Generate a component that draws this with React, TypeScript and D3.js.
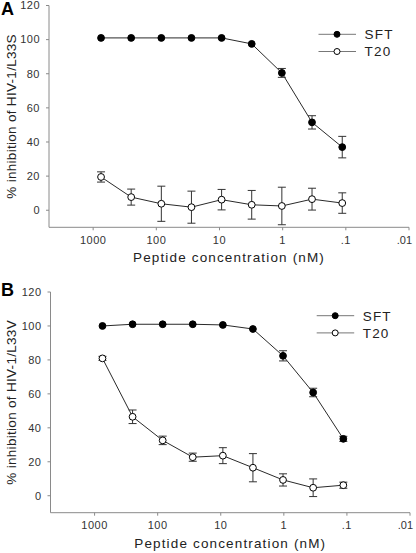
import React from "react";
import * as d3 from "d3";

const concentrations = [750, 250, 83.3, 27.8, 9.26, 3.09, 1.03, 0.343, 0.114];
const xTicks = [1000, 100, 10, 1, 0.1, 0.01];
const xTickLabels = ["1000", "100", "10", "1", ".1", ".01"];
const yTicks = [0, 20, 40, 60, 80, 100, 120];

const aSFT = [101, 101, 101, 101, 101, 97.5, 80.5, 51.5, 37];
const aSFTErr = [0, 0, 0, 0, 0, 0, 2.6, 3.9, 6.3];
const aT20 = [19.5, 7.7, 3.8, 1.8, 6.2, 3.2, 2.5, 6.5, 4.2];
const aT20Err = [3, 4.7, 10.3, 9.4, 6, 8.4, 11, 6.4, 6];

const bSFT = [100, 101, 101, 101, 100.6, 98.2, 82.4, 60.8, 33.5];
const bSFTErr = [0, 0, 0, 0, 0, 0, 3, 2.5, 1.5];
const bT20 = [80.9, 46.5, 32.6, 22.7, 23.6, 16.5, 9.3, 4.7, 6.2];
const bT20Err = [1.2, 4, 2.5, 2.4, 4.7, 8.3, 3.6, 5.2, 1.8];

const FONT = "'Liberation Sans', Arial, Helvetica, sans-serif";
const AXIS = "#8a8a8a";
const INK = "#2a2a2a";

type PanelProps = {
  letter: string;
  yTitle: string;
  sft: number[];
  sftErr: number[];
  t20: number[];
  t20Err: number[];
  x0: number;
  x1: number;
  yBottom: number;
  yTop: number;
  legendX: number;
  legendY: number;
  letterY: number;
};

function Panel(p: PanelProps) {
  const x = d3.scaleLog().domain([5000, 0.01]).range([p.x0, p.x1]);
  const y = d3.scaleLinear().domain([-10, 120]).range([p.yBottom, p.yTop]);
  const line = d3
    .line<number>()
    .x((_, i) => x(concentrations[i]))
    .y((d) => y(d));

  const series = [
    { vals: p.sft, errs: p.sftErr, filled: true },
    { vals: p.t20, errs: p.t20Err, filled: false },
  ];
  const cap = 4;
  const yMid = (y(-10) + y(120)) / 2;
  const xMid = (p.x0 + p.x1) / 2;

  return (
    <g>
      <text x={1} y={p.letterY} fontFamily={FONT} fontWeight="bold" fontSize={18} fill="#000">
        {p.letter}
      </text>
      {/* axes */}
      <line x1={p.x0} x2={p.x0} y1={y(-10)} y2={y(120)} stroke={AXIS} strokeWidth={1} />
      <line x1={p.x0} x2={p.x1} y1={y(-10)} y2={y(-10)} stroke={AXIS} strokeWidth={1} />
      {yTicks.map((t) => (
        <g key={"y" + t}>
          <line x1={p.x0 - 3} x2={p.x0} y1={y(t)} y2={y(t)} stroke={AXIS} />
          <text
            x={p.x0 - 9}
            y={y(t) + 3.8}
            textAnchor="end"
            fontFamily={FONT}
            fontSize={11}
            letterSpacing={0.5}
            fill="#333"
          >
            {t}
          </text>
        </g>
      ))}
      {xTicks.map((t, i) => {
        const last = i === xTicks.length - 1;
        return (
          <g key={"x" + t}>
            <line x1={x(t)} x2={x(t)} y1={y(-10)} y2={y(-10) + 3} stroke={AXIS} />
            <text
              x={last ? x(t) + 3 : x(t)}
              y={y(-10) + 16.5}
              textAnchor={last ? "end" : "middle"}
              fontFamily={FONT}
              fontSize={11}
              letterSpacing={last ? 0 : 0.5}
              fill="#333"
            >
              {xTickLabels[i]}
            </text>
          </g>
        );
      })}
      <text
        x={xMid}
        y={y(-10) + 35}
        textAnchor="middle"
        fontFamily={FONT}
        fontSize={13.5}
        letterSpacing={1.15}
        fill="#222"
      >
        Peptide concentration (nM)
      </text>
      <text
        transform={`translate(15.5,${yMid}) rotate(-90)`}
        textAnchor="middle"
        fontFamily={FONT}
        fontSize={13.5}
        letterSpacing={0.3}
        fill="#222"
      >
        {p.yTitle}
      </text>
      {/* data */}
      {series.map((s, si) => (
        <g key={"s" + si}>
          <path d={line(s.vals) || ""} fill="none" stroke={INK} strokeWidth={1} />
          {s.vals.map((v, i) =>
            s.errs[i] > 0 ? (
              <g key={"e" + i} stroke="#333" strokeWidth={1}>
                <line x1={x(concentrations[i])} x2={x(concentrations[i])} y1={y(v - s.errs[i])} y2={y(v + s.errs[i])} />
                <line x1={x(concentrations[i]) - cap} x2={x(concentrations[i]) + cap} y1={y(v + s.errs[i])} y2={y(v + s.errs[i])} />
                <line x1={x(concentrations[i]) - cap} x2={x(concentrations[i]) + cap} y1={y(v - s.errs[i])} y2={y(v - s.errs[i])} />
              </g>
            ) : null
          )}
          {s.vals.map((v, i) => (
            <circle
              key={"c" + i}
              cx={x(concentrations[i])}
              cy={y(v)}
              r={3.4}
              fill={s.filled ? "#000" : "#fff"}
              stroke="#000"
              strokeWidth={1}
            />
          ))}
        </g>
      ))}
      {/* legend */}
      {[
        { label: "SFT", filled: true, dy: 0 },
        { label: "T20", filled: false, dy: 17.2 },
      ].map((l) => (
        <g key={l.label}>
          <line
            x1={p.legendX}
            x2={p.legendX + 37.5}
            y1={p.legendY + l.dy}
            y2={p.legendY + l.dy}
            stroke="#777"
            strokeWidth={1}
          />
          <circle
            cx={p.legendX + 18.5}
            cy={p.legendY + l.dy}
            r={3}
            fill={l.filled ? "#000" : "#fff"}
            stroke="#000"
            strokeWidth={1}
          />
          <text
            x={p.legendX + 46}
            y={p.legendY + l.dy + 4.8}
            fontFamily={FONT}
            fontSize={13.5}
            letterSpacing={1.2}
            fill="#222"
          >
            {l.label}
          </text>
        </g>
      ))}
    </g>
  );
}

export default function App() {
  return (
    <svg
      width={416}
      height={553}
      style={{ position: "absolute", left: 0, top: 0, background: "#fff" }}
    >
      <rect width={416} height={553} fill="#fff" />
      <Panel
        letter="A"
        yTitle="% inhibition of HIV-1/L33S"
        sft={aSFT}
        sftErr={aSFTErr}
        t20={aT20}
        t20Err={aT20Err}
        x0={49}
        x1={409}
        yBottom={227.3}
        yTop={5.5}
        legendX={318.5}
        legendY={34.3}
        letterY={15}
      />
      <Panel
        letter="B"
        yTitle="% inhibition of HIV-1/L33V"
        sft={bSFT}
        sftErr={bSFTErr}
        t20={bT20}
        t20Err={bT20Err}
        x0={50.5}
        x1={410}
        yBottom={512.7}
        yTop={292}
        legendX={316.7}
        legendY={315.7}
        letterY={296}
      />
    </svg>
  );
}
